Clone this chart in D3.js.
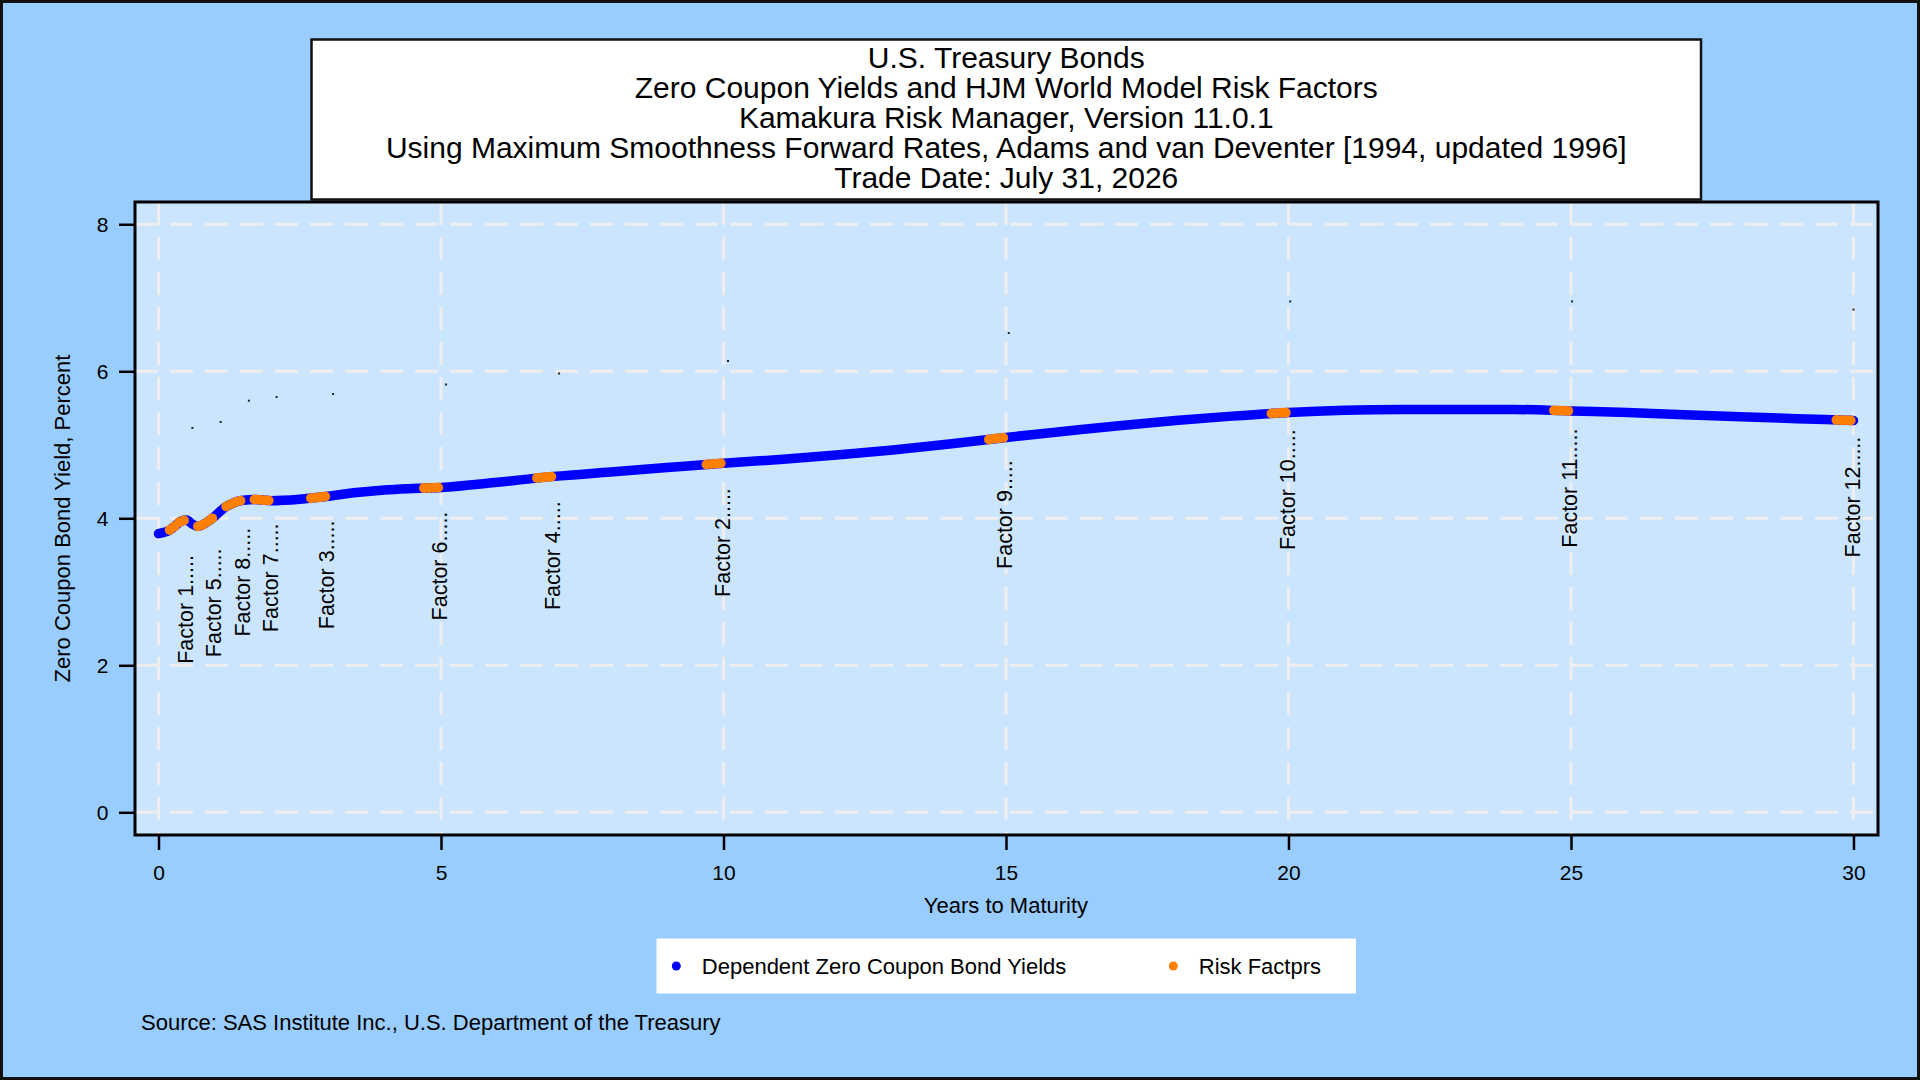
<!DOCTYPE html>
<html>
<head>
<meta charset="utf-8">
<script src="https://cdn.jsdelivr.net/npm/d3@7/dist/d3.min.js"></script>
<style>
html,body{margin:0;padding:0;background:#99CCFF;}
svg{display:block;font-family:"Liberation Sans",Arial,sans-serif;}
</style>
</head>
<body>
<svg id="chart" width="1920" height="1080"></svg>
<script>
// ---- Data ----
const titleLines = [
  "U.S. Treasury Bonds",
  "Zero Coupon Yields and HJM World Model Risk Factors",
  "Kamakura Risk Manager, Version 11.0.1",
  "Using Maximum Smoothness Forward Rates, Adams and van Deventer [1994, updated 1996]",
  "Trade Date: July 31, 2026"
];
const maturityYears = [0, 0.1, 0.2, 0.3, 0.4, 0.5, 0.6, 0.7, 0.8, 0.9, 1.0, 1.1, 1.2, 1.3, 1.4, 1.5, 1.7, 2.0, 2.5, 3.0, 3.5, 4.0, 4.5, 5.0, 6, 7, 8, 9, 10, 11, 12, 13, 14, 15, 16, 17, 18, 19, 20, 21, 22, 23, 24, 25, 26, 27, 28, 29, 30];
const zeroYields    = [3.79, 3.81, 3.84, 3.90, 3.96, 3.975, 3.92, 3.89, 3.92, 3.97, 4.03, 4.10, 4.16, 4.20, 4.23, 4.245, 4.255, 4.24, 4.26, 4.30, 4.35, 4.385, 4.405, 4.42, 4.49, 4.57, 4.63, 4.69, 4.75, 4.80, 4.86, 4.93, 5.01, 5.10, 5.18, 5.26, 5.33, 5.39, 5.44, 5.47, 5.48, 5.48, 5.48, 5.46, 5.44, 5.41, 5.38, 5.355, 5.33];
const factorNames   = ["Factor 1", "Factor 5", "Factor 8", "Factor 7", "Factor 3", "Factor 6", "Factor 4", "Factor 2", "Factor 9", "Factor 10", "Factor 11", "Factor 12"];
const factorYears   = [0.5, 1, 1.5, 2, 3, 5, 7, 10, 15, 20, 25, 30];
const factorLabelTop= [3.50, 3.59, 3.87, 3.93, 3.97, 4.09, 4.23, 4.41, 4.79, 5.21, 5.22, 5.11];
const factorMarkYears = [0.6, 1.1, 1.6, 2.09, 3.09, 5.09, 7.09, 10.08, 15.05, 20.03, 25.02, 30.0];
const factorMarkValues= [5.23, 5.31, 5.60, 5.65, 5.69, 5.82, 5.97, 6.14, 6.52, 6.95, 6.95, 6.84];
const factorMonthsBefore = [0, 1, 2, 3];
const xTickValues = [0, 5, 10, 15, 20, 25, 30];
const yTickValues = [0, 2, 4, 6, 8];
const xTitle = "Years to Maturity";
const yTitle = "Zero Coupon Bond Yield, Percent";
const legendLabels = ["Dependent Zero Coupon Bond Yields", "Risk Factprs"];
const sourceText = "Source: SAS Institute Inc., U.S. Department of the Treasury";

// ---- Layout ----
const W = 1920, H = 1080;
const plot = {left: 135, right: 1878, top: 202, bottom: 835};
const BLUE = "#0000FF", ORANGE = "#FF7F00", GRID = "#EEEEEE";
const svg = d3.select("#chart");

const x = d3.scaleLinear().domain([-0.4159, 30.434]).range([plot.left, plot.right]);
const y = d3.scaleLinear().domain([-0.3088, 8.303]).range([plot.bottom, plot.top]);

// background + outer border
svg.append("rect").attr("x", 1.5).attr("y", 1.5).attr("width", W - 3).attr("height", H - 3)
  .attr("fill", "#99CCFF").attr("stroke", "#111").attr("stroke-width", 3);

// plot area
svg.append("rect").attr("x", plot.left).attr("y", plot.top)
  .attr("width", plot.right - plot.left).attr("height", plot.bottom - plot.top)
  .attr("fill", "#CCE5FF");

// grid
const grid = svg.append("g");
grid.selectAll("line.h").data(yTickValues).join("line")
  .attr("x1", plot.left).attr("x2", plot.right)
  .attr("y1", d => y(d)).attr("y2", d => y(d))
  .attr("stroke", GRID).attr("stroke-width", 3).attr("stroke-dasharray", "23,12");
grid.selectAll("line.v").data(xTickValues).join("line")
  .attr("y1", plot.top).attr("y2", plot.bottom)
  .attr("x1", d => x(d)).attr("x2", d => x(d))
  .attr("stroke", GRID).attr("stroke-width", 3).attr("stroke-dasharray", "23,12");

// title box
svg.append("rect").attr("x", 311.5).attr("y", 39.5).attr("width", 1701 - 311.5).attr("height", 199.5 - 39.5)
  .attr("fill", "#fff").attr("stroke", "#111").attr("stroke-width", 2.5);
svg.append("g").selectAll("text").data(titleLines).join("text")
  .attr("x", (311.5 + 1701) / 2).attr("y", (d, i) => 68 + i * 30)
  .attr("text-anchor", "middle").attr("font-size", "30px").attr("fill", "#000")
  .text(d => d);

// axes
const yAxis = svg.append("g").attr("transform", `translate(${plot.left},0)`)
  .call(d3.axisLeft(y).tickValues(yTickValues).tickSize(16).tickPadding(10.5).tickFormat(d3.format("d")));
const xAxis = svg.append("g").attr("transform", `translate(0,${plot.bottom})`)
  .call(d3.axisBottom(x).tickValues(xTickValues).tickSize(15).tickPadding(15).tickFormat(d3.format("d")));
[xAxis, yAxis].forEach(a => {
  a.select(".domain").remove();
  a.selectAll(".tick line").attr("stroke", "#000").attr("stroke-width", 2.5);
  a.selectAll(".tick text").attr("font-size", "21px").attr("fill", "#000")
    .attr("font-family", "'Liberation Sans',Arial,sans-serif");
});

// axis titles
svg.append("text").attr("x", x(15)).attr("y", 913).attr("text-anchor", "middle")
  .attr("font-size", "22px").attr("fill", "#000").text(xTitle);
svg.append("text").attr("transform", `translate(69.5,${(plot.top + plot.bottom) / 2}) rotate(-90)`)
  .attr("text-anchor", "middle").attr("font-size", "22px").attr("fill", "#000").text(yTitle);

// blue curve
const line = d3.line().x(d => x(d[0])).y(d => y(d[1])).curve(d3.curveMonotoneX);
const curveData = maturityYears.map((m, i) => [m, zeroYields[i]]);
const curvePath = svg.append("path").datum(curveData).attr("d", line)
  .attr("fill", "none").attr("stroke", BLUE).attr("stroke-width", 9.5)
  .attr("stroke-linecap", "round").attr("stroke-linejoin", "round");

// find the curve's pixel y at a pixel x
const pathNode = curvePath.node();
const totalLen = pathNode.getTotalLength();
function curveYAt(px) {
  let lo = 0, hi = totalLen;
  for (let k = 0; k < 40; k++) {
    const mid = (lo + hi) / 2;
    if (pathNode.getPointAtLength(mid).x < px) lo = mid; else hi = mid;
  }
  return pathNode.getPointAtLength((lo + hi) / 2).y;
}

// orange risk-factor markers (monthly points just before each factor maturity)
const orangePts = [];
factorYears.forEach(m => factorMonthsBefore.forEach(k => {
  const t = Math.max(0, m - 0.05 - k / 12);
  orangePts.push(t);
}));
svg.append("g").selectAll("circle").data(orangePts).join("circle")
  .attr("cx", d => x(d)).attr("cy", d => curveYAt(x(d))).attr("r", 5)
  .attr("fill", ORANGE);

// tiny black markers
svg.append("g").selectAll("rect").data(factorMarkYears).join("rect")
  .attr("x", d => x(d) - 1).attr("y", (d, i) => y(factorMarkValues[i]) - 1)
  .attr("width", 2).attr("height", 2).attr("fill", "#222");

// factor labels
svg.append("g").selectAll("text").data(factorNames).join("text")
  .attr("transform", (d, i) => `translate(${x(factorYears[i])},${y(factorLabelTop[i])}) rotate(-90)`)
  .attr("dy", "0.3em").attr("text-anchor", "end").attr("font-size", "21.5px").attr("fill", "#000")
  .text(d => d + ".....");

// plot frame
svg.append("rect").attr("x", plot.left).attr("y", plot.top)
  .attr("width", plot.right - plot.left).attr("height", plot.bottom - plot.top)
  .attr("fill", "none").attr("stroke", "#000").attr("stroke-width", 3);

// legend
const leg = svg.append("g");
leg.append("rect").attr("x", 656.5).attr("y", 938.5).attr("width", 1356 - 656.5).attr("height", 55)
  .attr("fill", "#fff");
const legX = [676.3, 1173.3];
const legColors = [BLUE, ORANGE];
leg.selectAll("circle").data(legendLabels).join("circle")
  .attr("cx", (d, i) => legX[i]).attr("cy", 966).attr("r", 4.5).attr("fill", (d, i) => legColors[i]);
leg.selectAll("text").data(legendLabels).join("text")
  .attr("x", (d, i) => legX[i] + 25.5).attr("y", 973.5).attr("font-size", "22px").attr("fill", "#000")
  .text(d => d);

// source
svg.append("text").attr("x", 141).attr("y", 1030).attr("font-size", "22px").attr("fill", "#000").text(sourceText);
</script>
</body>
</html>
